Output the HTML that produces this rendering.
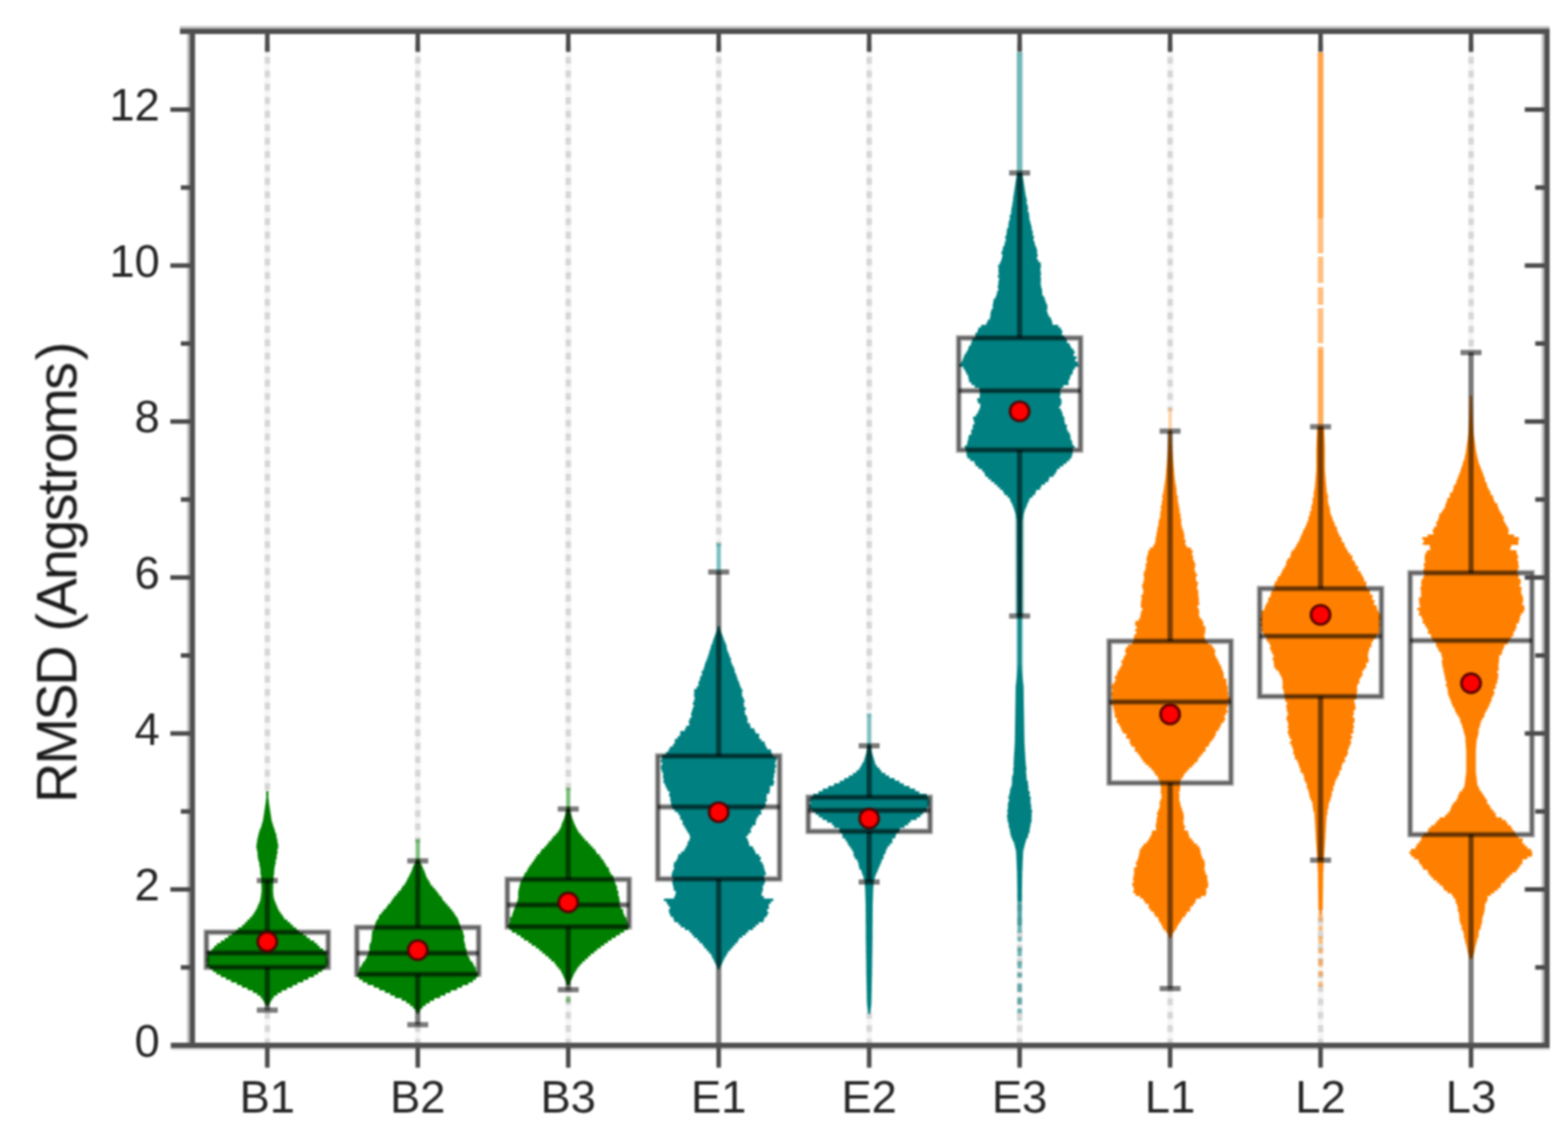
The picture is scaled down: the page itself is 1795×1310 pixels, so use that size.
<!DOCTYPE html>
<html lang="en"><head><meta charset="utf-8"><title>RMSD violin plot</title>
<style>html,body{margin:0;padding:0;background:#fff}body{width:1795px;height:1310px;overflow:hidden}svg{display:block}</style>
</head><body>
<svg width="1795" height="1310" viewBox="0 0 1795 1310">
<defs><filter id="b" x="-2%" y="-2%" width="104%" height="104%" color-interpolation-filters="sRGB"><feGaussianBlur stdDeviation="1.2"/></filter></defs>
<rect width="1795" height="1310" fill="#fff"/>
<g filter="url(#b)">
<g stroke="#f5f5f5" stroke-width="6.2" fill="none"><line x1="306.00" y1="50.43" x2="306.00" y2="1197.1"/><line x1="478.25" y1="50.43" x2="478.25" y2="1197.1"/><line x1="650.50" y1="50.43" x2="650.50" y2="1197.1"/><line x1="822.75" y1="50.43" x2="822.75" y2="1197.1"/><line x1="995.00" y1="50.43" x2="995.00" y2="1197.1"/><line x1="1167.25" y1="50.43" x2="1167.25" y2="1197.1"/><line x1="1339.50" y1="50.43" x2="1339.50" y2="1197.1"/><line x1="1511.75" y1="50.43" x2="1511.75" y2="1197.1"/><line x1="1684.00" y1="50.43" x2="1684.00" y2="1197.1"/></g>
<g stroke="#d6d6d6" stroke-width="6.2" stroke-dasharray="7.8 7.6" stroke-dashoffset="0.6" fill="none"><line x1="306.00" y1="50.43" x2="306.00" y2="1197.1"/><line x1="478.25" y1="50.43" x2="478.25" y2="1197.1"/><line x1="650.50" y1="50.43" x2="650.50" y2="1197.1"/><line x1="822.75" y1="50.43" x2="822.75" y2="1197.1"/><line x1="995.00" y1="50.43" x2="995.00" y2="1197.1"/><line x1="1167.25" y1="50.43" x2="1167.25" y2="1197.1"/><line x1="1339.50" y1="50.43" x2="1339.50" y2="1197.1"/><line x1="1511.75" y1="50.43" x2="1511.75" y2="1197.1"/><line x1="1684.00" y1="50.43" x2="1684.00" y2="1197.1"/></g>
<rect x="300.00" y="908.0" width="12" height="248.7" fill="#fff"/>
<rect x="472.25" y="965.0" width="12" height="208.4" fill="#fff"/>
<rect x="644.50" y="906.0" width="12" height="227.3" fill="#fff"/>
<rect x="816.75" y="626.0" width="12" height="571.1" fill="#fff"/>
<rect x="989.00" y="821.0" width="12" height="335.0" fill="#fff"/>
<rect x="1161.25" y="64.0" width="12" height="960.0" fill="#fff"/>
<rect x="1333.50" y="471.0" width="12" height="661.0" fill="#fff"/>
<rect x="1505.75" y="64.0" width="12" height="976.0" fill="#fff"/>
<rect x="1678.00" y="407.7" width="12" height="789.4" fill="#fff"/>
<path d="M306.4 906.0H307.2 V909.0H307.2 V912.0H307.2 V915.0H307.6 V918.0H307.9 V921.0H308.4 V924.0H308.8 V927.0H309.3 V930.0H309.7 V933.0H310.2 V936.0H310.6 V939.0H311.2 V942.0H312.2 V945.0H313.1 V948.0H314.2 V951.0H315.0 V954.0H316.3 V957.0H316.5 V960.0H317.4 V963.0H317.7 V966.0H318.5 V969.0H318.4 V972.0H317.5 V975.0H317.7 V978.0H316.8 V981.0H316.7 V984.0H315.6 V987.0H315.5 V990.0H314.7 V993.0H314.2 V996.0H313.9 V999.0H313.8 V1002.0H313.2 V1005.0H313.3 V1008.0H312.9 V1011.0H312.8 V1014.0H312.7 V1017.0H312.6 V1020.0H312.7 V1023.0H312.9 V1026.0H313.3 V1029.0H314.1 V1032.0H315.3 V1035.0H316.6 V1038.0H317.8 V1041.0H319.2 V1044.0H321.3 V1047.0H323.5 V1050.0H325.4 V1053.0H329.1 V1056.0H332.5 V1059.0H335.5 V1062.0H339.2 V1065.0H342.3 V1068.0H347.1 V1071.0H351.0 V1074.0H354.8 V1077.0H359.8 V1080.0H363.2 V1083.0H366.0 V1086.0H369.9 V1089.0H373.0 V1092.0H373.8 V1095.0H374.6 V1098.0H375.1 V1101.0H375.5 V1104.0H374.6 V1107.0H372.2 V1110.0H368.8 V1113.0H364.2 V1116.0H359.5 V1119.0H353.0 V1122.0H347.2 V1125.0H340.4 V1128.0H334.8 V1131.0H328.4 V1134.0H322.3 V1137.0H317.6 V1140.0H313.6 V1143.0H311.5 V1146.0H309.6 V1149.0H307.7 V1152.0H304.3 V1149.0H302.4 V1146.0H300.5 V1143.0H298.3 V1140.0H294.4 V1137.0H289.5 V1134.0H283.4 V1131.0H276.9 V1128.0H271.2 V1125.0H264.4 V1122.0H258.6 V1119.0H252.7 V1116.0H247.6 V1113.0H243.7 V1110.0H240.0 V1107.0H236.7 V1104.0H237.6 V1101.0H236.6 V1098.0H237.0 V1095.0H238.1 V1092.0H238.3 V1089.0H242.5 V1086.0H245.1 V1083.0H248.3 V1080.0H252.7 V1077.0H257.3 V1074.0H261.3 V1071.0H265.4 V1068.0H269.6 V1065.0H272.7 V1062.0H277.1 V1059.0H280.2 V1056.0H283.0 V1053.0H286.0 V1050.0H288.8 V1047.0H290.9 V1044.0H292.7 V1041.0H294.4 V1038.0H295.5 V1035.0H297.0 V1032.0H298.0 V1029.0H298.5 V1026.0H298.9 V1023.0H299.3 V1020.0H299.4 V1017.0H299.3 V1014.0H299.2 V1011.0H299.1 V1008.0H299.1 V1005.0H298.8 V1002.0H298.2 V999.0H298.1 V996.0H297.9 V993.0H297.1 V990.0H296.9 V987.0H296.0 V984.0H295.2 V981.0H294.9 V978.0H294.8 V975.0H294.2 V972.0H293.5 V969.0H293.6 V966.0H294.2 V963.0H294.5 V960.0H295.3 V957.0H295.9 V954.0H296.7 V951.0H297.8 V948.0H299.1 V945.0H299.8 V942.0H300.8 V939.0H301.4 V936.0H301.8 V933.0H302.3 V930.0H302.7 V927.0H303.2 V924.0H303.6 V921.0H304.1 V918.0H304.4 V915.0H304.8 V912.0H304.8 V909.0H304.8 V906.0Z" fill="#008000"/>
<line x1="478.25" y1="961.0" x2="478.25" y2="986.0" stroke="#008000" stroke-width="5.0" opacity="0.50"/>
<path d="M480.2 984.0H480.2 V987.0H481.6 V990.0H483.2 V993.0H484.4 V996.0H485.8 V999.0H486.9 V1002.0H487.9 V1005.0H489.5 V1008.0H491.5 V1011.0H492.9 V1014.0H495.5 V1017.0H498.2 V1020.0H500.6 V1023.0H502.7 V1026.0H505.4 V1029.0H507.0 V1032.0H509.7 V1035.0H512.3 V1038.0H515.0 V1041.0H517.5 V1044.0H519.7 V1047.0H521.6 V1050.0H523.8 V1053.0H525.0 V1056.0H526.0 V1059.0H527.1 V1062.0H528.0 V1065.0H529.9 V1068.0H530.6 V1071.0H531.5 V1074.0H531.1 V1077.0H531.6 V1080.0H532.5 V1083.0H532.7 V1086.0H534.1 V1089.0H534.3 V1092.0H535.0 V1095.0H537.1 V1098.0H538.4 V1101.0H541.1 V1104.0H542.6 V1107.0H544.5 V1110.0H545.0 V1113.0H547.0 V1116.0H547.1 V1119.0H544.8 V1122.0H541.3 V1125.0H536.2 V1128.0H529.1 V1131.0H523.2 V1134.0H515.9 V1137.0H510.0 V1140.0H503.9 V1143.0H497.0 V1146.0H492.0 V1149.0H487.4 V1152.0H483.8 V1155.0H481.2 V1158.0H479.5 V1161.0H477.0 V1158.0H475.3 V1155.0H472.7 V1152.0H469.2 V1149.0H465.1 V1146.0H459.8 V1143.0H452.1 V1140.0H446.7 V1137.0H440.6 V1134.0H434.0 V1131.0H427.9 V1128.0H420.5 V1125.0H415.2 V1122.0H411.1 V1119.0H408.5 V1116.0H410.0 V1113.0H410.9 V1110.0H411.7 V1107.0H413.9 V1104.0H415.5 V1101.0H418.0 V1098.0H419.6 V1095.0H420.8 V1092.0H422.2 V1089.0H422.9 V1086.0H422.8 V1083.0H423.2 V1080.0H424.7 V1077.0H425.3 V1074.0H425.5 V1071.0H425.7 V1068.0H426.1 V1065.0H428.4 V1062.0H429.1 V1059.0H429.7 V1056.0H430.9 V1053.0H433.1 V1050.0H434.0 V1047.0H436.7 V1044.0H439.1 V1041.0H442.1 V1038.0H444.1 V1035.0H447.0 V1032.0H448.9 V1029.0H451.1 V1026.0H453.8 V1023.0H456.1 V1020.0H459.0 V1017.0H460.7 V1014.0H463.3 V1011.0H465.1 V1008.0H466.5 V1005.0H468.2 V1002.0H469.6 V999.0H471.1 V996.0H472.1 V993.0H473.3 V990.0H474.9 V987.0H476.2 V984.0Z" fill="#008000"/>
<line x1="650.50" y1="902.0" x2="650.50" y2="926.4" stroke="#008000" stroke-width="5.0" opacity="0.50"/>
<line x1="650.50" y1="1141.0" x2="650.50" y2="1148.0" stroke="#008000" stroke-width="5.0" opacity="0.45"/>
<path d="M652.0 924.0H652.0 V927.0H652.7 V930.0H653.5 V933.0H654.4 V936.0H655.3 V939.0H656.5 V942.0H657.6 V945.0H659.0 V948.0H660.6 V951.0H662.2 V954.0H664.8 V957.0H667.3 V960.0H669.7 V963.0H673.0 V966.0H675.7 V969.0H678.5 V972.0H681.3 V975.0H683.0 V978.0H686.4 V981.0H688.3 V984.0H690.7 V987.0H692.5 V990.0H694.2 V993.0H696.9 V996.0H697.6 V999.0H699.3 V1002.0H701.9 V1005.0H702.7 V1008.0H703.8 V1011.0H704.9 V1014.0H706.3 V1017.0H706.4 V1020.0H707.9 V1023.0H707.6 V1026.0H708.7 V1029.0H709.3 V1032.0H709.6 V1035.0H709.2 V1038.0H710.8 V1041.0H713.3 V1044.0H713.6 V1047.0H714.9 V1050.0H716.9 V1053.0H717.7 V1056.0H718.8 V1059.0H719.7 V1062.0H719.0 V1065.0H714.4 V1068.0H709.7 V1071.0H705.0 V1074.0H700.2 V1077.0H695.9 V1080.0H691.8 V1083.0H687.7 V1086.0H683.6 V1089.0H680.2 V1092.0H676.2 V1095.0H673.1 V1098.0H669.8 V1101.0H666.5 V1104.0H663.8 V1107.0H661.3 V1110.0H659.5 V1113.0H657.6 V1116.0H656.2 V1119.0H654.8 V1122.0H653.4 V1125.0H652.5 V1128.0H648.5 V1125.0H647.6 V1122.0H646.2 V1119.0H644.8 V1116.0H643.3 V1113.0H641.8 V1110.0H639.3 V1107.0H636.8 V1104.0H634.7 V1101.0H631.0 V1098.0H628.0 V1095.0H624.3 V1092.0H620.7 V1089.0H617.3 V1086.0H613.4 V1083.0H608.6 V1080.0H604.9 V1077.0H599.8 V1074.0H596.1 V1071.0H591.3 V1068.0H586.0 V1065.0H583.1 V1062.0H581.0 V1059.0H583.0 V1056.0H583.9 V1053.0H583.9 V1050.0H586.2 V1047.0H587.0 V1044.0H588.1 V1041.0H589.2 V1038.0H590.6 V1035.0H591.6 V1032.0H592.7 V1029.0H593.3 V1026.0H593.2 V1023.0H593.3 V1020.0H593.8 V1017.0H594.6 V1014.0H595.2 V1011.0H596.1 V1008.0H598.2 V1005.0H599.4 V1002.0H600.6 V999.0H603.1 V996.0H604.6 V993.0H606.6 V990.0H608.8 V987.0H611.0 V984.0H613.0 V981.0H615.1 V978.0H618.1 V975.0H619.9 V972.0H623.2 V969.0H625.9 V966.0H628.2 V963.0H631.1 V960.0H633.3 V957.0H636.3 V954.0H638.8 V951.0H640.8 V948.0H642.4 V945.0H643.1 V942.0H644.5 V939.0H645.7 V936.0H646.6 V933.0H647.5 V930.0H648.3 V927.0H649.0 V924.0Z" fill="#008000"/>
<line x1="822.75" y1="622.0" x2="822.75" y2="655.0" stroke="#008080" stroke-width="5.0" opacity="0.50"/>
<path d="M823.6 717.0H824.0 V720.0H824.6 V723.0H825.8 V726.0H827.0 V729.0H828.2 V732.0H829.2 V735.0H830.6 V738.0H831.7 V741.0H832.0 V744.0H832.8 V747.0H834.2 V750.0H835.2 V753.0H836.7 V756.0H836.8 V759.0H838.0 V762.0H839.6 V765.0H840.8 V768.0H841.2 V771.0H842.7 V774.0H843.7 V777.0H844.6 V780.0H846.1 V783.0H846.9 V786.0H848.2 V789.0H849.9 V792.0H849.4 V795.0H849.5 V798.0H851.0 V801.0H852.3 V804.0H851.5 V807.0H851.7 V810.0H853.8 V813.0H852.5 V816.0H853.0 V819.0H855.0 V822.0H855.8 V825.0H855.6 V828.0H858.5 V831.0H859.2 V834.0H863.6 V837.0H864.9 V840.0H869.0 V843.0H869.0 V846.0H871.5 V849.0H875.3 V852.0H876.3 V855.0H877.9 V858.0H882.6 V861.0H883.3 V864.0H885.2 V867.0H889.4 V870.0H888.0 V873.0H887.4 V876.0H888.4 V879.0H887.0 V882.0H887.4 V885.0H886.3 V888.0H886.1 V891.0H885.3 V894.0H886.3 V897.0H885.5 V900.0H881.5 V903.0H881.4 V906.0H880.9 V909.0H877.8 V912.0H877.5 V915.0H877.8 V918.0H876.3 V921.0H876.7 V924.0H874.3 V927.0H871.3 V930.0H871.5 V933.0H868.3 V936.0H866.3 V939.0H865.3 V942.0H865.0 V945.0H861.4 V948.0H859.4 V951.0H859.6 V954.0H856.7 V957.0H854.4 V960.0H855.9 V963.0H857.1 V966.0H857.7 V969.0H861.9 V972.0H863.7 V975.0H865.0 V978.0H868.8 V981.0H871.0 V984.0H870.4 V987.0H872.7 V990.0H874.2 V993.0H874.8 V996.0H875.7 V999.0H876.8 V1002.0H874.9 V1005.0H875.1 V1008.0H875.9 V1011.0H874.8 V1014.0H873.1 V1017.0H873.5 V1020.0H872.5 V1023.0H871.8 V1026.0H874.4 V1029.0H885.2 V1032.0H882.4 V1035.0H880.0 V1038.0H880.3 V1041.0H878.2 V1044.0H879.5 V1047.0H878.0 V1050.0H875.2 V1053.0H874.1 V1056.0H868.5 V1059.0H865.1 V1062.0H862.0 V1065.0H856.5 V1068.0H853.7 V1071.0H849.7 V1074.0H845.9 V1077.0H844.3 V1080.0H841.4 V1083.0H838.8 V1086.0H836.2 V1089.0H833.4 V1092.0H831.8 V1095.0H829.9 V1098.0H828.4 V1101.0H827.0 V1104.0H825.5 V1107.0H824.0 V1110.0H821.5 V1107.0H820.0 V1104.0H818.5 V1101.0H817.1 V1098.0H815.4 V1095.0H814.2 V1092.0H811.6 V1089.0H809.0 V1086.0H806.2 V1083.0H804.2 V1080.0H800.8 V1077.0H798.3 V1074.0H794.4 V1071.0H792.0 V1068.0H789.2 V1065.0H784.0 V1062.0H779.3 V1059.0H776.6 V1056.0H771.8 V1053.0H770.8 V1050.0H767.6 V1047.0H766.3 V1044.0H765.6 V1041.0H767.0 V1038.0H764.9 V1035.0H763.1 V1032.0H760.1 V1029.0H771.8 V1026.0H773.2 V1023.0H773.6 V1020.0H771.3 V1017.0H770.9 V1014.0H770.0 V1011.0H769.5 V1008.0H770.9 V1005.0H769.0 V1002.0H769.0 V999.0H770.2 V996.0H771.6 V993.0H771.2 V990.0H771.6 V987.0H774.1 V984.0H775.7 V981.0H776.5 V978.0H779.8 V975.0H783.3 V972.0H785.1 V969.0H786.7 V966.0H787.5 V963.0H789.3 V960.0H790.0 V957.0H789.0 V954.0H787.0 V951.0H785.3 V948.0H783.5 V945.0H781.5 V942.0H781.3 V939.0H778.8 V936.0H778.3 V933.0H776.3 V930.0H772.6 V927.0H770.1 V924.0H768.4 V921.0H768.1 V918.0H767.4 V915.0H767.2 V912.0H765.9 V909.0H766.5 V906.0H764.1 V903.0H762.5 V900.0H761.3 V897.0H759.5 V894.0H759.6 V891.0H758.9 V888.0H759.2 V885.0H758.1 V882.0H756.9 V879.0H756.8 V876.0H758.1 V873.0H756.4 V870.0H757.7 V867.0H758.3 V864.0H762.4 V861.0H765.2 V858.0H766.8 V855.0H770.3 V852.0H772.3 V849.0H772.6 V846.0H775.8 V843.0H778.5 V840.0H778.8 V837.0H784.1 V834.0H785.5 V831.0H789.1 V828.0H788.5 V825.0H789.6 V822.0H791.6 V819.0H791.1 V816.0H792.1 V813.0H793.0 V810.0H794.2 V807.0H793.2 V804.0H794.5 V801.0H795.3 V798.0H794.5 V795.0H794.7 V792.0H794.7 V789.0H797.5 V786.0H799.6 V783.0H799.6 V780.0H801.1 V777.0H801.7 V774.0H803.6 V771.0H803.4 V768.0H805.3 V765.0H806.3 V762.0H807.0 V759.0H808.2 V756.0H809.5 V753.0H810.5 V750.0H811.5 V747.0H812.3 V744.0H813.4 V741.0H814.0 V738.0H815.5 V735.0H816.3 V732.0H817.3 V729.0H818.5 V726.0H819.7 V723.0H820.9 V720.0H821.5 V717.0Z" fill="#008080"/>
<line x1="995.00" y1="817.0" x2="995.00" y2="854.0" stroke="#008080" stroke-width="5.0" opacity="0.50"/>
<path d="M996.5 852.0H996.5 V855.0H997.1 V858.0H997.7 V861.0H998.4 V864.0H999.3 V867.0H1000.2 V870.0H1001.1 V873.0H1002.0 V876.0H1003.9 V879.0H1006.9 V882.0H1009.1 V885.0H1013.6 V888.0H1017.9 V891.0H1024.2 V894.0H1029.8 V897.0H1034.6 V900.0H1041.3 V903.0H1047.6 V906.0H1052.4 V909.0H1060.9 V912.0H1062.6 V915.0H1063.7 V918.0H1063.7 V921.0H1063.3 V924.0H1061.3 V927.0H1060.7 V930.0H1056.4 V933.0H1053.6 V936.0H1049.4 V939.0H1042.5 V942.0H1039.7 V945.0H1035.5 V948.0H1030.1 V951.0H1029.1 V954.0H1025.8 V957.0H1025.0 V960.0H1021.6 V963.0H1021.4 V966.0H1018.6 V969.0H1016.1 V972.0H1014.5 V975.0H1013.7 V978.0H1011.7 V981.0H1011.3 V984.0H1009.4 V987.0H1008.4 V990.0H1007.1 V993.0H1005.7 V996.0H1004.6 V999.0H1003.2 V1002.0H1002.0 V1005.0H1001.2 V1008.0H1000.5 V1011.0H1000.0 V1014.0H999.8 V1017.0H999.6 V1020.0H999.5 V1023.0H999.4 V1026.0H999.3 V1029.0H999.2 V1032.0H999.1 V1035.0H999.0 V1038.0H999.0 V1041.0H999.0 V1044.0H998.9 V1047.0H998.9 V1050.0H998.9 V1053.0H998.9 V1056.0H998.9 V1059.0H998.8 V1062.0H998.8 V1065.0H998.8 V1068.0H998.8 V1071.0H998.8 V1074.0H998.8 V1077.0H998.7 V1080.0H998.7 V1083.0H998.6 V1086.0H998.6 V1089.0H998.6 V1092.0H998.5 V1095.0H998.5 V1098.0H998.4 V1101.0H998.4 V1104.0H998.4 V1107.0H998.3 V1110.0H998.3 V1113.0H998.3 V1116.0H998.2 V1119.0H998.1 V1122.0H998.1 V1125.0H998.0 V1128.0H997.9 V1131.0H997.9 V1134.0H997.8 V1137.0H997.7 V1140.0H997.7 V1143.0H997.6 V1146.0H997.6 V1149.0H997.4 V1152.0H997.1 V1155.0H996.7 V1158.0H996.2 V1161.0H993.8 V1158.0H993.3 V1155.0H992.9 V1152.0H992.6 V1149.0H992.4 V1146.0H992.4 V1143.0H992.3 V1140.0H992.3 V1137.0H992.2 V1134.0H992.1 V1131.0H992.1 V1128.0H992.0 V1125.0H991.9 V1122.0H991.9 V1119.0H991.8 V1116.0H991.7 V1113.0H991.7 V1110.0H991.7 V1107.0H991.6 V1104.0H991.6 V1101.0H991.6 V1098.0H991.5 V1095.0H991.5 V1092.0H991.4 V1089.0H991.4 V1086.0H991.4 V1083.0H991.3 V1080.0H991.3 V1077.0H991.2 V1074.0H991.2 V1071.0H991.2 V1068.0H991.2 V1065.0H991.2 V1062.0H991.2 V1059.0H991.1 V1056.0H991.1 V1053.0H991.1 V1050.0H991.1 V1047.0H991.1 V1044.0H991.0 V1041.0H991.0 V1038.0H991.0 V1035.0H990.9 V1032.0H990.8 V1029.0H990.7 V1026.0H990.6 V1023.0H990.5 V1020.0H990.4 V1017.0H990.2 V1014.0H990.0 V1011.0H989.5 V1008.0H988.8 V1005.0H988.2 V1002.0H987.0 V999.0H986.1 V996.0H983.9 V993.0H983.1 V990.0H982.6 V987.0H981.4 V984.0H978.8 V981.0H977.2 V978.0H977.1 V975.0H975.5 V972.0H973.5 V969.0H971.3 V966.0H969.7 V963.0H967.7 V960.0H964.5 V957.0H964.2 V954.0H961.1 V951.0H960.9 V948.0H954.8 V945.0H952.4 V942.0H946.8 V939.0H941.6 V936.0H937.3 V933.0H933.8 V930.0H929.9 V927.0H927.0 V924.0H926.2 V921.0H928.3 V918.0H926.7 V915.0H928.0 V912.0H930.9 V909.0H937.0 V906.0H941.8 V903.0H948.1 V900.0H954.7 V897.0H961.3 V894.0H966.4 V891.0H971.6 V888.0H976.4 V885.0H980.4 V882.0H983.6 V879.0H985.5 V876.0H987.1 V873.0H988.9 V870.0H989.8 V867.0H990.7 V864.0H991.6 V861.0H992.3 V858.0H992.9 V855.0H993.5 V852.0Z" fill="#008080"/>
<line x1="1167.25" y1="60.0" x2="1167.25" y2="198.0" stroke="#008080" stroke-width="6.5" opacity="0.55"/>
<line x1="1167.25" y1="590.0" x2="1167.25" y2="705.0" stroke="#008080" stroke-width="10.0" opacity="0.42"/>
<line x1="1167.25" y1="705.0" x2="1167.25" y2="790.0" stroke="#008080" stroke-width="7.0" opacity="0.60"/>
<line x1="1167.25" y1="1030.0" x2="1167.25" y2="1060.0" stroke="#008080" stroke-width="5.0" opacity="0.70"/>
<line x1="1167.25" y1="1060.0" x2="1167.25" y2="1168.0" stroke="#008080" stroke-width="5.0" opacity="0.55" stroke-dasharray="8 5 5 7 10 6"/>
<path d="M1170.5 198.0H1170.5 V201.0H1170.9 V204.0H1171.4 V207.0H1171.9 V210.0H1172.3 V213.0H1172.8 V216.0H1173.2 V219.0H1173.7 V222.0H1174.1 V225.0H1174.9 V228.0H1175.5 V231.0H1175.2 V234.0H1176.4 V237.0H1176.9 V240.0H1176.6 V243.0H1177.9 V246.0H1178.3 V249.0H1178.4 V252.0H1179.2 V255.0H1180.0 V258.0H1180.9 V261.0H1181.1 V264.0H1182.3 V267.0H1182.2 V270.0H1183.6 V273.0H1183.0 V276.0H1184.3 V279.0H1184.9 V282.0H1186.3 V285.0H1187.2 V288.0H1187.2 V291.0H1187.9 V294.0H1187.0 V297.0H1188.6 V300.0H1191.2 V303.0H1191.7 V306.0H1191.1 V309.0H1191.2 V312.0H1191.7 V315.0H1191.2 V318.0H1191.7 V321.0H1191.4 V324.0H1191.4 V327.0H1191.9 V330.0H1192.8 V333.0H1193.0 V336.0H1193.3 V339.0H1195.4 V342.0H1196.4 V345.0H1197.4 V348.0H1198.8 V351.0H1199.1 V354.0H1198.4 V357.0H1199.3 V360.0H1200.5 V363.0H1202.9 V366.0H1204.2 V369.0H1204.8 V372.0H1211.6 V375.0H1214.5 V378.0H1216.1 V381.0H1215.6 V384.0H1218.2 V387.0H1220.9 V390.0H1221.5 V393.0H1224.5 V396.0H1226.0 V399.0H1228.7 V402.0H1230.3 V405.0H1229.0 V408.0H1232.4 V411.0H1230.8 V414.0H1233.8 V417.0H1234.6 V420.0H1230.5 V423.0H1228.4 V426.0H1227.8 V429.0H1225.5 V432.0H1224.7 V435.0H1223.2 V438.0H1223.2 V441.0H1217.2 V444.0H1214.5 V447.0H1213.3 V450.0H1214.2 V453.0H1213.3 V456.0H1214.8 V459.0H1215.3 V462.0H1214.5 V465.0H1212.7 V468.0H1214.6 V471.0H1216.0 V474.0H1216.6 V477.0H1218.4 V480.0H1218.5 V483.0H1219.0 V486.0H1221.4 V489.0H1221.1 V492.0H1222.4 V495.0H1224.5 V498.0H1225.4 V501.0H1225.6 V504.0H1227.2 V507.0H1227.7 V510.0H1229.9 V513.0H1228.2 V516.0H1228.0 V519.0H1227.6 V522.0H1226.6 V525.0H1224.4 V528.0H1221.1 V531.0H1217.3 V534.0H1213.3 V537.0H1210.0 V540.0H1208.5 V543.0H1206.3 V546.0H1201.3 V549.0H1200.1 V552.0H1196.4 V555.0H1192.2 V558.0H1190.7 V561.0H1186.1 V564.0H1184.9 V567.0H1181.9 V570.0H1178.7 V573.0H1177.4 V576.0H1175.9 V579.0H1174.9 V582.0H1173.5 V585.0H1172.6 V588.0H1171.8 V591.0H1171.1 V594.0H1170.4 V597.0H1170.2 V600.0H1170.2 V603.0H1170.2 V606.0H1170.2 V609.0H1170.2 V612.0H1170.2 V615.0H1170.2 V618.0H1170.1 V621.0H1170.1 V624.0H1170.1 V627.0H1170.1 V630.0H1170.1 V633.0H1170.1 V636.0H1170.1 V639.0H1170.0 V642.0H1170.0 V645.0H1170.0 V648.0H1170.0 V651.0H1170.0 V654.0H1170.0 V657.0H1170.0 V660.0H1169.9 V663.0H1169.9 V666.0H1169.9 V669.0H1169.9 V672.0H1169.9 V675.0H1169.9 V678.0H1169.9 V681.0H1169.9 V684.0H1169.8 V687.0H1169.8 V690.0H1169.8 V693.0H1169.8 V696.0H1169.8 V699.0H1169.8 V702.0H1169.8 V705.0H1169.5 V708.0H1168.8 V711.0H1168.8 V714.0H1168.8 V717.0H1168.8 V720.0H1168.8 V723.0H1168.8 V726.0H1168.8 V729.0H1168.8 V732.0H1168.8 V735.0H1168.8 V738.0H1168.8 V741.0H1168.8 V744.0H1168.8 V747.0H1168.8 V750.0H1168.8 V753.0H1168.8 V756.0H1168.8 V759.0H1168.8 V762.0H1169.2 V765.0H1169.5 V768.0H1169.8 V771.0H1170.2 V774.0H1170.5 V777.0H1170.9 V780.0H1171.2 V783.0H1171.6 V786.0H1171.8 V789.0H1171.8 V792.0H1171.9 V795.0H1171.9 V798.0H1171.9 V801.0H1172.0 V804.0H1172.0 V807.0H1172.1 V810.0H1172.1 V813.0H1172.2 V816.0H1172.2 V819.0H1172.3 V822.0H1172.3 V825.0H1172.4 V828.0H1172.4 V831.0H1172.5 V834.0H1172.5 V837.0H1172.6 V840.0H1172.6 V843.0H1172.7 V846.0H1172.7 V849.0H1172.8 V852.0H1173.0 V855.0H1173.1 V858.0H1173.3 V861.0H1173.5 V864.0H1173.7 V867.0H1173.8 V870.0H1174.0 V873.0H1174.2 V876.0H1174.6 V879.0H1175.0 V882.0H1174.5 V885.0H1174.9 V888.0H1175.1 V891.0H1175.3 V894.0H1176.7 V897.0H1176.9 V900.0H1177.3 V903.0H1177.3 V906.0H1178.9 V909.0H1178.5 V912.0H1179.9 V915.0H1179.7 V918.0H1179.7 V921.0H1180.5 V924.0H1180.4 V927.0H1181.5 V930.0H1181.1 V933.0H1181.0 V936.0H1180.9 V939.0H1180.9 V942.0H1179.9 V945.0H1179.4 V948.0H1178.8 V951.0H1178.6 V954.0H1177.2 V957.0H1176.6 V960.0H1174.8 V963.0H1174.0 V966.0H1173.1 V969.0H1172.4 V972.0H1171.6 V975.0H1171.2 V978.0H1171.1 V981.0H1171.0 V984.0H1170.8 V987.0H1170.7 V990.0H1170.6 V993.0H1170.5 V996.0H1170.3 V999.0H1170.2 V1002.0H1170.2 V1005.0H1170.1 V1008.0H1170.1 V1011.0H1170.0 V1014.0H1170.0 V1017.0H1169.9 V1020.0H1169.9 V1023.0H1169.8 V1026.0H1169.8 V1029.0H1169.8 V1032.0H1164.8 V1029.0H1164.7 V1026.0H1164.7 V1023.0H1164.6 V1020.0H1164.6 V1017.0H1164.5 V1014.0H1164.5 V1011.0H1164.4 V1008.0H1164.4 V1005.0H1164.3 V1002.0H1164.3 V999.0H1164.2 V996.0H1164.0 V993.0H1163.9 V990.0H1163.8 V987.0H1163.7 V984.0H1163.5 V981.0H1163.4 V978.0H1163.3 V975.0H1162.9 V972.0H1162.1 V969.0H1161.4 V966.0H1160.5 V963.0H1159.0 V960.0H1157.7 V957.0H1156.8 V954.0H1156.3 V951.0H1155.8 V948.0H1154.8 V945.0H1154.7 V942.0H1153.6 V939.0H1153.3 V936.0H1152.8 V933.0H1153.5 V930.0H1153.1 V927.0H1153.8 V924.0H1153.8 V921.0H1154.0 V918.0H1155.2 V915.0H1154.5 V912.0H1155.2 V909.0H1156.1 V906.0H1156.3 V903.0H1157.4 V900.0H1158.4 V897.0H1158.5 V894.0H1158.5 V891.0H1158.7 V888.0H1159.8 V885.0H1160.1 V882.0H1159.9 V879.0H1160.5 V876.0H1160.3 V873.0H1160.5 V870.0H1160.7 V867.0H1160.8 V864.0H1161.0 V861.0H1161.2 V858.0H1161.4 V855.0H1161.5 V852.0H1161.7 V849.0H1161.8 V846.0H1161.8 V843.0H1161.9 V840.0H1161.9 V837.0H1162.0 V834.0H1162.0 V831.0H1162.1 V828.0H1162.1 V825.0H1162.2 V822.0H1162.2 V819.0H1162.3 V816.0H1162.3 V813.0H1162.4 V810.0H1162.4 V807.0H1162.5 V804.0H1162.5 V801.0H1162.6 V798.0H1162.6 V795.0H1162.6 V792.0H1162.7 V789.0H1162.7 V786.0H1162.9 V783.0H1163.3 V780.0H1163.6 V777.0H1164.0 V774.0H1164.3 V771.0H1164.7 V768.0H1165.0 V765.0H1165.3 V762.0H1165.7 V759.0H1165.8 V756.0H1165.8 V753.0H1165.8 V750.0H1165.8 V747.0H1165.8 V744.0H1165.8 V741.0H1165.8 V738.0H1165.8 V735.0H1165.8 V732.0H1165.8 V729.0H1165.8 V726.0H1165.8 V723.0H1165.8 V720.0H1165.8 V717.0H1165.8 V714.0H1165.8 V711.0H1165.7 V708.0H1165.0 V705.0H1164.7 V702.0H1164.7 V699.0H1164.7 V696.0H1164.7 V693.0H1164.7 V690.0H1164.7 V687.0H1164.7 V684.0H1164.6 V681.0H1164.6 V678.0H1164.6 V675.0H1164.6 V672.0H1164.6 V669.0H1164.6 V666.0H1164.6 V663.0H1164.6 V660.0H1164.5 V657.0H1164.5 V654.0H1164.5 V651.0H1164.5 V648.0H1164.5 V645.0H1164.5 V642.0H1164.5 V639.0H1164.4 V636.0H1164.4 V633.0H1164.4 V630.0H1164.4 V627.0H1164.4 V624.0H1164.4 V621.0H1164.4 V618.0H1164.3 V615.0H1164.3 V612.0H1164.3 V609.0H1164.3 V606.0H1164.3 V603.0H1164.3 V600.0H1164.3 V597.0H1164.1 V594.0H1163.4 V591.0H1162.7 V588.0H1161.9 V585.0H1161.0 V582.0H1159.9 V579.0H1158.8 V576.0H1157.1 V573.0H1156.1 V570.0H1153.4 V567.0H1149.8 V564.0H1148.1 V561.0H1144.7 V558.0H1141.7 V555.0H1138.4 V552.0H1134.6 V549.0H1131.3 V546.0H1128.0 V543.0H1126.7 V540.0H1124.2 V537.0H1120.1 V534.0H1116.8 V531.0H1115.4 V528.0H1110.6 V525.0H1107.4 V522.0H1106.5 V519.0H1106.5 V516.0H1105.3 V513.0H1104.6 V510.0H1107.1 V507.0H1107.7 V504.0H1108.5 V501.0H1109.0 V498.0H1111.8 V495.0H1111.8 V492.0H1113.5 V489.0H1113.7 V486.0H1115.5 V483.0H1114.7 V480.0H1114.0 V477.0H1117.3 V474.0H1119.3 V471.0H1120.7 V468.0H1122.0 V465.0H1122.2 V462.0H1119.5 V459.0H1118.7 V456.0H1121.5 V453.0H1121.7 V450.0H1121.5 V447.0H1121.0 V444.0H1115.8 V441.0H1112.1 V438.0H1109.5 V435.0H1108.8 V432.0H1108.2 V429.0H1106.3 V426.0H1104.9 V423.0H1103.0 V420.0H1098.3 V417.0H1100.1 V414.0H1101.9 V411.0H1103.0 V408.0H1104.2 V405.0H1106.2 V402.0H1108.0 V399.0H1109.0 V396.0H1111.3 V393.0H1112.3 V390.0H1113.4 V387.0H1116.4 V384.0H1116.6 V381.0H1119.0 V378.0H1120.0 V375.0H1123.1 V372.0H1129.2 V369.0H1130.7 V366.0H1133.2 V363.0H1133.7 V360.0H1134.0 V357.0H1134.8 V354.0H1136.5 V351.0H1136.4 V348.0H1137.0 V345.0H1137.5 V342.0H1139.6 V339.0H1140.9 V336.0H1141.5 V333.0H1142.9 V330.0H1142.2 V327.0H1142.8 V324.0H1143.0 V321.0H1143.7 V318.0H1142.4 V315.0H1143.3 V312.0H1143.0 V309.0H1143.1 V306.0H1142.7 V303.0H1144.7 V300.0H1146.0 V297.0H1147.0 V294.0H1147.5 V291.0H1146.4 V288.0H1147.7 V285.0H1148.2 V282.0H1149.8 V279.0H1150.5 V276.0H1151.5 V273.0H1150.8 V270.0H1152.2 V267.0H1152.4 V264.0H1152.9 V261.0H1154.4 V258.0H1154.4 V255.0H1155.1 V252.0H1156.2 V249.0H1155.9 V246.0H1157.4 V243.0H1157.7 V240.0H1158.0 V237.0H1158.7 V234.0H1159.1 V231.0H1159.7 V228.0H1159.9 V225.0H1160.4 V222.0H1160.8 V219.0H1161.3 V216.0H1161.7 V213.0H1162.2 V210.0H1162.6 V207.0H1163.1 V204.0H1163.6 V201.0H1164.0 V198.0Z" fill="#008080"/>
<line x1="1339.50" y1="467.0" x2="1339.50" y2="493.0" stroke="#ff8000" stroke-width="4.0" opacity="0.35"/>
<path d="M1341.0 492.0H1341.0 V495.0H1341.1 V498.0H1341.2 V501.0H1341.3 V504.0H1341.4 V507.0H1341.5 V510.0H1341.8 V513.0H1342.0 V516.0H1342.2 V519.0H1342.5 V522.0H1342.7 V525.0H1342.9 V528.0H1343.2 V531.0H1343.4 V534.0H1343.7 V537.0H1344.0 V540.0H1344.2 V543.0H1344.5 V546.0H1344.8 V549.0H1345.2 V552.0H1345.7 V555.0H1346.2 V558.0H1346.8 V561.0H1346.8 V564.0H1347.0 V567.0H1348.3 V570.0H1348.2 V573.0H1348.5 V576.0H1349.2 V579.0H1349.7 V582.0H1350.4 V585.0H1350.4 V588.0H1351.6 V591.0H1351.5 V594.0H1352.4 V597.0H1352.1 V600.0H1352.6 V603.0H1353.3 V606.0H1354.5 V609.0H1355.3 V612.0H1355.9 V615.0H1355.7 V618.0H1357.3 V621.0H1356.7 V624.0H1358.4 V627.0H1363.4 V630.0H1365.3 V633.0H1364.6 V636.0H1365.7 V639.0H1365.8 V642.0H1367.4 V645.0H1368.4 V648.0H1367.9 V651.0H1367.5 V654.0H1368.7 V657.0H1370.4 V660.0H1369.0 V663.0H1369.3 V666.0H1371.3 V669.0H1370.9 V672.0H1370.2 V675.0H1371.6 V678.0H1371.8 V681.0H1371.9 V684.0H1372.4 V687.0H1372.3 V690.0H1372.9 V693.0H1370.9 V696.0H1372.2 V699.0H1372.9 V702.0H1372.5 V705.0H1373.2 V708.0H1375.7 V711.0H1377.5 V714.0H1377.5 V717.0H1380.0 V720.0H1379.7 V723.0H1379.6 V726.0H1378.6 V729.0H1379.2 V732.0H1380.1 V735.0H1383.1 V738.0H1387.5 V741.0H1389.7 V744.0H1391.3 V747.0H1390.6 V750.0H1391.7 V753.0H1393.4 V756.0H1394.9 V759.0H1396.3 V762.0H1398.0 V765.0H1398.9 V768.0H1400.3 V771.0H1400.9 V774.0H1400.9 V777.0H1404.0 V780.0H1404.0 V783.0H1404.5 V786.0H1405.6 V789.0H1405.2 V792.0H1405.9 V795.0H1405.7 V798.0H1407.8 V801.0H1407.4 V804.0H1405.6 V807.0H1405.7 V810.0H1404.0 V813.0H1405.3 V816.0H1403.6 V819.0H1401.7 V822.0H1402.6 V825.0H1400.8 V828.0H1398.0 V831.0H1396.8 V834.0H1395.1 V837.0H1392.3 V840.0H1391.6 V843.0H1389.9 V846.0H1387.8 V849.0H1385.2 V852.0H1383.8 V855.0H1380.4 V858.0H1379.9 V861.0H1377.0 V864.0H1374.6 V867.0H1372.0 V870.0H1370.8 V873.0H1367.4 V876.0H1364.8 V879.0H1361.3 V882.0H1358.6 V885.0H1356.0 V888.0H1354.3 V891.0H1352.3 V894.0H1350.7 V897.0H1350.8 V900.0H1351.1 V903.0H1350.7 V906.0H1349.7 V909.0H1350.2 V912.0H1350.0 V915.0H1350.1 V918.0H1351.1 V921.0H1351.5 V924.0H1352.8 V927.0H1353.7 V930.0H1354.8 V933.0H1355.2 V936.0H1355.3 V939.0H1354.7 V942.0H1355.1 V945.0H1356.6 V948.0H1355.9 V951.0H1359.9 V954.0H1360.7 V957.0H1361.7 V960.0H1364.5 V963.0H1366.7 V966.0H1370.4 V969.0H1373.0 V972.0H1374.2 V975.0H1374.5 V978.0H1375.4 V981.0H1376.6 V984.0H1378.5 V987.0H1379.2 V990.0H1379.3 V993.0H1378.7 V996.0H1379.5 V999.0H1380.3 V1002.0H1382.2 V1005.0H1382.0 V1008.0H1382.6 V1011.0H1383.2 V1014.0H1382.9 V1017.0H1380.8 V1020.0H1381.0 V1023.0H1380.4 V1026.0H1374.8 V1029.0H1369.2 V1032.0H1368.1 V1035.0H1365.9 V1038.0H1362.8 V1041.0H1362.2 V1044.0H1358.5 V1047.0H1357.0 V1050.0H1353.7 V1053.0H1352.1 V1056.0H1350.0 V1059.0H1348.0 V1062.0H1346.6 V1065.0H1344.5 V1068.0H1342.3 V1071.0H1341.2 V1074.0H1337.8 V1071.0H1336.7 V1068.0H1334.5 V1065.0H1331.7 V1062.0H1330.3 V1059.0H1328.8 V1056.0H1326.7 V1053.0H1325.8 V1050.0H1322.3 V1047.0H1320.9 V1044.0H1317.4 V1041.0H1315.1 V1038.0H1314.7 V1035.0H1310.9 V1032.0H1309.0 V1029.0H1305.3 V1026.0H1300.0 V1023.0H1297.4 V1020.0H1298.1 V1017.0H1297.3 V1014.0H1296.0 V1011.0H1297.7 V1008.0H1297.0 V1005.0H1297.7 V1002.0H1298.3 V999.0H1298.2 V996.0H1298.3 V993.0H1301.2 V990.0H1300.2 V987.0H1301.9 V984.0H1303.0 V981.0H1303.7 V978.0H1304.4 V975.0H1304.8 V972.0H1307.0 V969.0H1309.1 V966.0H1312.7 V963.0H1314.9 V960.0H1316.7 V957.0H1318.1 V954.0H1318.9 V951.0H1323.5 V948.0H1323.1 V945.0H1323.2 V942.0H1324.1 V939.0H1324.1 V936.0H1325.1 V933.0H1324.5 V930.0H1325.7 V927.0H1327.2 V924.0H1327.8 V921.0H1327.4 V918.0H1328.4 V915.0H1329.6 V912.0H1329.6 V909.0H1328.7 V906.0H1329.0 V903.0H1328.9 V900.0H1328.6 V897.0H1328.0 V894.0H1326.4 V891.0H1325.2 V888.0H1322.5 V885.0H1320.7 V882.0H1318.0 V879.0H1314.9 V876.0H1311.3 V873.0H1308.6 V870.0H1306.6 V867.0H1304.7 V864.0H1302.3 V861.0H1299.2 V858.0H1299.0 V855.0H1294.9 V852.0H1293.4 V849.0H1293.2 V846.0H1289.3 V843.0H1289.4 V840.0H1285.3 V837.0H1283.8 V834.0H1282.6 V831.0H1280.9 V828.0H1278.4 V825.0H1278.6 V822.0H1276.2 V819.0H1276.1 V816.0H1275.4 V813.0H1274.7 V810.0H1274.0 V807.0H1271.6 V804.0H1273.3 V801.0H1273.2 V798.0H1272.2 V795.0H1272.2 V792.0H1273.6 V789.0H1272.4 V786.0H1273.2 V783.0H1275.5 V780.0H1277.2 V777.0H1276.1 V774.0H1278.4 V771.0H1279.2 V768.0H1281.2 V765.0H1283.0 V762.0H1284.6 V759.0H1283.6 V756.0H1286.0 V753.0H1287.2 V750.0H1289.0 V747.0H1287.9 V744.0H1289.0 V741.0H1291.4 V738.0H1296.1 V735.0H1297.8 V732.0H1297.9 V729.0H1298.7 V726.0H1300.9 V723.0H1299.5 V720.0H1301.4 V717.0H1299.5 V714.0H1299.7 V711.0H1303.6 V708.0H1305.4 V705.0H1305.7 V702.0H1306.5 V699.0H1307.8 V696.0H1306.0 V693.0H1306.1 V690.0H1306.4 V687.0H1307.1 V684.0H1306.5 V681.0H1308.4 V678.0H1308.9 V675.0H1307.9 V672.0H1307.4 V669.0H1308.6 V666.0H1309.4 V663.0H1309.7 V660.0H1309.3 V657.0H1309.5 V654.0H1311.1 V651.0H1311.7 V648.0H1311.5 V645.0H1313.0 V642.0H1312.4 V639.0H1313.0 V636.0H1314.1 V633.0H1314.6 V630.0H1316.5 V627.0H1320.1 V624.0H1321.9 V621.0H1322.9 V618.0H1322.9 V615.0H1323.7 V612.0H1324.0 V609.0H1324.8 V606.0H1325.0 V603.0H1326.1 V600.0H1326.3 V597.0H1326.7 V594.0H1328.1 V591.0H1328.2 V588.0H1328.4 V585.0H1329.3 V582.0H1328.8 V579.0H1330.0 V576.0H1330.0 V573.0H1331.0 V570.0H1330.5 V567.0H1331.4 V564.0H1331.9 V561.0H1332.5 V558.0H1332.8 V555.0H1333.3 V552.0H1333.8 V549.0H1334.2 V546.0H1334.5 V543.0H1334.8 V540.0H1335.0 V537.0H1335.3 V534.0H1335.6 V531.0H1335.8 V528.0H1336.1 V525.0H1336.3 V522.0H1336.5 V519.0H1336.8 V516.0H1337.0 V513.0H1337.2 V510.0H1337.5 V507.0H1337.6 V504.0H1337.7 V501.0H1337.8 V498.0H1337.9 V495.0H1338.0 V492.0Z" fill="#ff8000"/>
<line x1="1511.75" y1="60.0" x2="1511.75" y2="250.0" stroke="#ff8000" stroke-width="6.5" opacity="0.70"/>
<line x1="1511.75" y1="250.0" x2="1511.75" y2="400.0" stroke="#ff8000" stroke-width="6.5" opacity="0.50" stroke-dasharray="40 4 30 5 20 4"/>
<line x1="1511.75" y1="400.0" x2="1511.75" y2="489.0" stroke="#ff8000" stroke-width="6.5" opacity="0.65"/>
<line x1="1511.75" y1="1046.0" x2="1511.75" y2="1130.0" stroke="#ff8000" stroke-width="5.0" opacity="0.50" stroke-dasharray="9 5 6 6"/>
<path d="M1515.8 489.0H1515.8 V492.0H1515.9 V495.0H1516.0 V498.0H1516.1 V501.0H1516.3 V504.0H1516.4 V507.0H1516.5 V510.0H1516.6 V513.0H1516.7 V516.0H1516.7 V519.0H1516.7 V522.0H1516.7 V525.0H1516.7 V528.0H1516.7 V531.0H1516.7 V534.0H1516.7 V537.0H1516.8 V540.0H1517.0 V543.0H1517.3 V546.0H1517.5 V549.0H1517.7 V552.0H1518.0 V555.0H1518.2 V558.0H1518.6 V561.0H1518.7 V564.0H1519.4 V567.0H1520.5 V570.0H1519.9 V573.0H1520.4 V576.0H1520.8 V579.0H1522.0 V582.0H1522.6 V585.0H1522.7 V588.0H1523.7 V591.0H1525.0 V594.0H1525.8 V597.0H1527.5 V600.0H1528.2 V603.0H1530.5 V606.0H1530.8 V609.0H1532.2 V612.0H1533.6 V615.0H1535.8 V618.0H1536.2 V621.0H1538.9 V624.0H1539.6 V627.0H1541.5 V630.0H1543.1 V633.0H1545.6 V636.0H1548.2 V639.0H1548.1 V642.0H1550.9 V645.0H1551.8 V648.0H1554.8 V651.0H1554.6 V654.0H1557.6 V657.0H1559.0 V660.0H1560.9 V663.0H1561.7 V666.0H1564.3 V669.0H1564.0 V672.0H1564.4 V675.0H1568.0 V678.0H1568.5 V681.0H1571.3 V684.0H1570.9 V687.0H1573.6 V690.0H1572.8 V693.0H1576.0 V696.0H1576.5 V699.0H1578.0 V702.0H1579.8 V705.0H1580.5 V708.0H1580.0 V711.0H1579.3 V714.0H1580.3 V717.0H1579.1 V720.0H1579.4 V723.0H1579.1 V726.0H1576.2 V729.0H1574.6 V732.0H1572.0 V735.0H1570.1 V738.0H1570.0 V741.0H1567.9 V744.0H1567.0 V747.0H1566.2 V750.0H1566.0 V753.0H1566.6 V756.0H1566.7 V759.0H1563.9 V762.0H1564.1 V765.0H1561.7 V768.0H1559.4 V771.0H1559.9 V774.0H1558.0 V777.0H1556.1 V780.0H1556.2 V783.0H1554.0 V786.0H1553.4 V789.0H1553.8 V792.0H1553.3 V795.0H1552.6 V798.0H1552.9 V801.0H1550.3 V804.0H1550.9 V807.0H1551.6 V810.0H1551.8 V813.0H1549.7 V816.0H1549.8 V819.0H1548.8 V822.0H1550.7 V825.0H1550.4 V828.0H1549.1 V831.0H1550.1 V834.0H1548.8 V837.0H1549.3 V840.0H1546.7 V843.0H1548.0 V846.0H1546.1 V849.0H1546.8 V852.0H1545.4 V855.0H1544.2 V858.0H1542.9 V861.0H1543.2 V864.0H1541.7 V867.0H1539.4 V870.0H1539.8 V873.0H1537.0 V876.0H1535.8 V879.0H1535.8 V882.0H1533.5 V885.0H1533.2 V888.0H1531.4 V891.0H1529.7 V894.0H1528.4 V897.0H1527.8 V900.0H1526.2 V903.0H1526.4 V906.0H1524.6 V909.0H1524.7 V912.0H1523.5 V915.0H1522.8 V918.0H1521.4 V921.0H1520.9 V924.0H1520.5 V927.0H1519.5 V930.0H1519.6 V933.0H1518.7 V936.0H1518.5 V939.0H1518.3 V942.0H1518.1 V945.0H1517.9 V948.0H1517.8 V951.0H1517.6 V954.0H1517.4 V957.0H1517.3 V960.0H1517.1 V963.0H1516.9 V966.0H1516.7 V969.0H1516.5 V972.0H1516.3 V975.0H1516.1 V978.0H1515.9 V981.0H1515.7 V984.0H1515.5 V987.0H1515.3 V990.0H1515.2 V993.0H1515.0 V996.0H1514.9 V999.0H1514.7 V1002.0H1514.7 V1005.0H1514.7 V1008.0H1514.6 V1011.0H1514.6 V1014.0H1514.6 V1017.0H1514.5 V1020.0H1514.5 V1023.0H1514.4 V1026.0H1514.4 V1029.0H1514.4 V1032.0H1514.3 V1035.0H1514.3 V1038.0H1514.3 V1041.0H1513.2 V1044.0H1513.0 V1047.0H1510.5 V1044.0H1510.3 V1041.0H1509.2 V1038.0H1509.2 V1035.0H1509.2 V1032.0H1509.1 V1029.0H1509.1 V1026.0H1509.1 V1023.0H1509.0 V1020.0H1509.0 V1017.0H1508.9 V1014.0H1508.9 V1011.0H1508.9 V1008.0H1508.8 V1005.0H1508.8 V1002.0H1508.8 V999.0H1508.6 V996.0H1508.5 V993.0H1508.3 V990.0H1508.2 V987.0H1508.0 V984.0H1507.8 V981.0H1507.6 V978.0H1507.4 V975.0H1507.2 V972.0H1507.0 V969.0H1506.8 V966.0H1506.6 V963.0H1506.4 V960.0H1506.2 V957.0H1506.1 V954.0H1505.9 V951.0H1505.7 V948.0H1505.6 V945.0H1505.4 V942.0H1505.2 V939.0H1505.0 V936.0H1504.8 V933.0H1504.7 V930.0H1503.6 V927.0H1503.1 V924.0H1502.7 V921.0H1502.5 V918.0H1501.0 V915.0H1499.6 V912.0H1498.9 V909.0H1498.4 V906.0H1497.4 V903.0H1496.0 V900.0H1496.1 V897.0H1494.5 V894.0H1493.0 V891.0H1492.8 V888.0H1491.7 V885.0H1488.8 V882.0H1488.6 V879.0H1487.1 V876.0H1486.5 V873.0H1485.1 V870.0H1482.4 V867.0H1482.1 V864.0H1480.4 V861.0H1480.6 V858.0H1479.8 V855.0H1478.5 V852.0H1476.7 V849.0H1478.3 V846.0H1476.3 V843.0H1475.3 V840.0H1474.1 V837.0H1475.1 V834.0H1474.2 V831.0H1474.8 V828.0H1474.1 V825.0H1472.6 V822.0H1473.3 V819.0H1474.5 V816.0H1473.4 V813.0H1472.9 V810.0H1472.4 V807.0H1473.4 V804.0H1471.5 V801.0H1470.7 V798.0H1470.4 V795.0H1469.9 V792.0H1469.2 V789.0H1468.1 V786.0H1468.3 V783.0H1468.3 V780.0H1468.0 V777.0H1466.9 V774.0H1465.3 V771.0H1464.0 V768.0H1460.7 V765.0H1458.6 V762.0H1458.4 V759.0H1458.0 V756.0H1456.8 V753.0H1458.1 V750.0H1456.6 V747.0H1455.3 V744.0H1453.8 V741.0H1454.4 V738.0H1452.8 V735.0H1450.2 V732.0H1449.9 V729.0H1447.2 V726.0H1445.7 V723.0H1443.9 V720.0H1444.6 V717.0H1442.6 V714.0H1444.2 V711.0H1442.3 V708.0H1443.8 V705.0H1444.0 V702.0H1444.2 V699.0H1447.4 V696.0H1448.3 V693.0H1449.7 V690.0H1451.8 V687.0H1452.0 V684.0H1454.4 V681.0H1454.9 V678.0H1456.2 V675.0H1459.2 V672.0H1458.5 V669.0H1459.4 V666.0H1461.8 V663.0H1462.8 V660.0H1465.6 V657.0H1467.1 V654.0H1468.5 V651.0H1470.6 V648.0H1472.2 V645.0H1472.5 V642.0H1474.1 V639.0H1477.1 V636.0H1477.6 V633.0H1478.8 V630.0H1481.7 V627.0H1483.5 V624.0H1485.1 V621.0H1487.0 V618.0H1488.3 V615.0H1489.4 V612.0H1491.0 V609.0H1492.0 V606.0H1493.8 V603.0H1495.2 V600.0H1496.3 V597.0H1497.7 V594.0H1497.9 V591.0H1499.4 V588.0H1499.6 V585.0H1501.4 V582.0H1501.0 V579.0H1502.2 V576.0H1502.8 V573.0H1502.6 V570.0H1504.0 V567.0H1503.8 V564.0H1504.3 V561.0H1504.9 V558.0H1505.3 V555.0H1505.5 V552.0H1505.8 V549.0H1506.0 V546.0H1506.2 V543.0H1506.5 V540.0H1506.7 V537.0H1506.8 V534.0H1506.8 V531.0H1506.8 V528.0H1506.8 V525.0H1506.8 V522.0H1506.8 V519.0H1506.8 V516.0H1506.8 V513.0H1506.9 V510.0H1507.0 V507.0H1507.1 V504.0H1507.2 V501.0H1507.4 V498.0H1507.5 V495.0H1507.6 V492.0H1507.7 V489.0Z" fill="#ff8000"/>
<path d="M1685.1 453.0H1685.2 V456.0H1685.2 V459.0H1685.3 V462.0H1685.4 V465.0H1685.5 V468.0H1685.6 V471.0H1685.7 V474.0H1685.8 V477.0H1685.9 V480.0H1686.1 V483.0H1686.3 V486.0H1686.5 V489.0H1686.7 V492.0H1686.9 V495.0H1687.1 V498.0H1687.4 V501.0H1687.8 V504.0H1688.2 V507.0H1688.7 V510.0H1689.1 V513.0H1689.5 V516.0H1689.9 V519.0H1690.6 V522.0H1691.3 V525.0H1692.1 V528.0H1692.6 V531.0H1693.8 V534.0H1695.0 V537.0H1696.2 V540.0H1697.6 V543.0H1698.4 V546.0H1699.7 V549.0H1700.0 V552.0H1702.0 V555.0H1702.5 V558.0H1703.8 V561.0H1705.7 V564.0H1706.6 V567.0H1709.1 V570.0H1709.8 V573.0H1711.1 V576.0H1714.1 V579.0H1714.9 V582.0H1716.0 V585.0H1717.7 V588.0H1719.6 V591.0H1721.5 V594.0H1721.2 V597.0H1722.8 V600.0H1724.5 V603.0H1726.4 V606.0H1727.2 V609.0H1726.7 V612.0H1733.2 V615.0H1738.9 V618.0H1738.2 V621.0H1738.2 V624.0H1730.0 V627.0H1728.9 V630.0H1735.9 V633.0H1736.7 V636.0H1738.1 V639.0H1737.0 V642.0H1738.1 V645.0H1738.2 V648.0H1738.7 V651.0H1737.5 V654.0H1736.8 V657.0H1738.5 V660.0H1738.5 V663.0H1740.9 V666.0H1740.8 V669.0H1739.6 V672.0H1741.8 V675.0H1741.4 V678.0H1741.5 V681.0H1743.0 V684.0H1743.7 V687.0H1743.6 V690.0H1742.8 V693.0H1744.9 V696.0H1745.3 V699.0H1744.0 V702.0H1741.5 V705.0H1740.1 V708.0H1739.7 V711.0H1738.7 V714.0H1735.9 V717.0H1736.0 V720.0H1734.6 V723.0H1732.7 V726.0H1732.3 V729.0H1729.7 V732.0H1727.3 V735.0H1725.9 V738.0H1722.3 V741.0H1721.2 V744.0H1719.7 V747.0H1719.3 V750.0H1716.4 V753.0H1716.1 V756.0H1716.0 V759.0H1715.4 V762.0H1715.4 V765.0H1715.7 V768.0H1714.0 V771.0H1715.3 V774.0H1715.0 V777.0H1714.3 V780.0H1713.9 V783.0H1712.3 V786.0H1712.2 V789.0H1709.9 V792.0H1710.8 V795.0H1709.6 V798.0H1707.8 V801.0H1707.3 V804.0H1705.7 V807.0H1704.6 V810.0H1703.0 V813.0H1701.3 V816.0H1699.6 V819.0H1699.1 V822.0H1696.8 V825.0H1695.4 V828.0H1694.6 V831.0H1693.8 V834.0H1692.6 V837.0H1692.7 V840.0H1692.1 V843.0H1691.4 V846.0H1690.5 V849.0H1690.2 V852.0H1690.0 V855.0H1689.8 V858.0H1689.5 V861.0H1689.5 V864.0H1689.5 V867.0H1689.5 V870.0H1689.5 V873.0H1689.5 V876.0H1689.5 V879.0H1689.5 V882.0H1689.5 V885.0H1689.8 V888.0H1690.2 V891.0H1690.6 V894.0H1690.9 V897.0H1691.2 V900.0H1692.8 V903.0H1694.1 V906.0H1696.3 V909.0H1698.3 V912.0H1700.2 V915.0H1702.3 V918.0H1702.5 V921.0H1705.3 V924.0H1706.7 V927.0H1709.6 V930.0H1711.8 V933.0H1712.7 V936.0H1719.4 V939.0H1724.0 V942.0H1726.0 V945.0H1729.7 V948.0H1731.4 V951.0H1733.8 V954.0H1735.2 V957.0H1738.3 V960.0H1743.1 V963.0H1742.7 V966.0H1745.4 V969.0H1748.6 V972.0H1752.8 V975.0H1754.1 V978.0H1753.8 V981.0H1748.6 V984.0H1743.0 V987.0H1742.6 V990.0H1740.2 V993.0H1738.0 V996.0H1735.8 V999.0H1731.0 V1002.0H1727.9 V1005.0H1724.7 V1008.0H1722.6 V1011.0H1718.8 V1014.0H1717.7 V1017.0H1714.5 V1020.0H1710.7 V1023.0H1706.7 V1026.0H1702.9 V1029.0H1702.9 V1032.0H1701.3 V1035.0H1699.9 V1038.0H1699.9 V1041.0H1699.5 V1044.0H1698.9 V1047.0H1697.9 V1050.0H1696.9 V1053.0H1696.8 V1056.0H1696.3 V1059.0H1695.4 V1062.0H1694.7 V1065.0H1692.9 V1068.0H1692.7 V1071.0H1692.5 V1074.0H1691.2 V1077.0H1690.6 V1080.0H1689.7 V1083.0H1688.9 V1086.0H1688.3 V1089.0H1687.7 V1092.0H1686.8 V1095.0H1685.7 V1098.0H1682.3 V1095.0H1681.2 V1092.0H1680.3 V1089.0H1679.7 V1086.0H1679.1 V1083.0H1678.3 V1080.0H1677.4 V1077.0H1676.8 V1074.0H1675.8 V1071.0H1675.8 V1068.0H1674.9 V1065.0H1673.2 V1062.0H1673.3 V1059.0H1671.8 V1056.0H1671.0 V1053.0H1670.6 V1050.0H1670.6 V1047.0H1670.1 V1044.0H1668.7 V1041.0H1668.8 V1038.0H1668.1 V1035.0H1666.5 V1032.0H1666.2 V1029.0H1663.9 V1026.0H1661.9 V1023.0H1656.9 V1020.0H1653.1 V1017.0H1651.5 V1014.0H1647.7 V1011.0H1644.7 V1008.0H1640.8 V1005.0H1638.0 V1002.0H1635.4 V999.0H1634.2 V996.0H1629.1 V993.0H1627.6 V990.0H1625.0 V987.0H1623.7 V984.0H1618.9 V981.0H1615.4 V978.0H1613.5 V975.0H1615.2 V972.0H1620.5 V969.0H1622.0 V966.0H1624.7 V963.0H1626.8 V960.0H1627.4 V957.0H1630.2 V954.0H1634.4 V951.0H1635.2 V948.0H1638.2 V945.0H1642.6 V942.0H1645.1 V939.0H1647.9 V936.0H1654.1 V933.0H1657.2 V930.0H1659.7 V927.0H1660.9 V924.0H1662.1 V921.0H1664.2 V918.0H1667.0 V915.0H1668.6 V912.0H1669.4 V909.0H1671.0 V906.0H1674.0 V903.0H1675.8 V900.0H1676.7 V897.0H1677.1 V894.0H1677.4 V891.0H1677.8 V888.0H1678.2 V885.0H1678.5 V882.0H1678.5 V879.0H1678.5 V876.0H1678.5 V873.0H1678.5 V870.0H1678.5 V867.0H1678.5 V864.0H1678.5 V861.0H1678.5 V858.0H1678.2 V855.0H1678.0 V852.0H1677.8 V849.0H1677.5 V846.0H1677.5 V843.0H1676.8 V840.0H1675.8 V837.0H1675.1 V834.0H1674.1 V831.0H1673.3 V828.0H1671.8 V825.0H1671.4 V822.0H1669.6 V819.0H1667.6 V816.0H1666.0 V813.0H1664.9 V810.0H1663.0 V807.0H1661.7 V804.0H1660.8 V801.0H1659.5 V798.0H1658.3 V795.0H1657.4 V792.0H1657.3 V789.0H1656.7 V786.0H1655.1 V783.0H1656.0 V780.0H1654.6 V777.0H1654.2 V774.0H1653.6 V771.0H1652.7 V768.0H1652.4 V765.0H1651.4 V762.0H1651.0 V759.0H1650.5 V756.0H1651.3 V753.0H1650.4 V750.0H1649.9 V747.0H1647.4 V744.0H1646.0 V741.0H1644.0 V738.0H1643.9 V735.0H1640.7 V732.0H1638.8 V729.0H1637.8 V726.0H1634.7 V723.0H1634.9 V720.0H1632.9 V717.0H1631.1 V714.0H1628.6 V711.0H1628.6 V708.0H1627.3 V705.0H1624.3 V702.0H1625.0 V699.0H1622.4 V696.0H1625.6 V693.0H1624.9 V690.0H1624.5 V687.0H1624.4 V684.0H1626.9 V681.0H1626.6 V678.0H1626.6 V675.0H1626.0 V672.0H1627.2 V669.0H1626.8 V666.0H1627.4 V663.0H1629.2 V660.0H1630.6 V657.0H1629.7 V654.0H1629.6 V651.0H1630.6 V648.0H1629.8 V645.0H1631.4 V642.0H1631.0 V639.0H1630.9 V636.0H1631.6 V633.0H1633.4 V630.0H1637.2 V627.0H1636.8 V624.0H1628.7 V621.0H1630.1 V618.0H1628.2 V615.0H1634.3 V612.0H1640.9 V609.0H1640.0 V606.0H1641.8 V603.0H1644.5 V600.0H1644.2 V597.0H1646.1 V594.0H1647.3 V591.0H1647.6 V588.0H1650.2 V585.0H1652.4 V582.0H1654.2 V579.0H1654.8 V576.0H1656.1 V573.0H1656.9 V570.0H1659.7 V567.0H1659.8 V564.0H1662.9 V561.0H1663.8 V558.0H1664.3 V555.0H1666.7 V552.0H1667.5 V549.0H1668.8 V546.0H1669.8 V543.0H1671.2 V540.0H1672.1 V537.0H1673.0 V534.0H1674.2 V531.0H1674.7 V528.0H1676.2 V525.0H1676.8 V522.0H1677.4 V519.0H1678.1 V516.0H1678.5 V513.0H1678.9 V510.0H1679.3 V507.0H1679.8 V504.0H1680.2 V501.0H1680.6 V498.0H1680.9 V495.0H1681.1 V492.0H1681.3 V489.0H1681.5 V486.0H1681.7 V483.0H1681.9 V480.0H1682.1 V477.0H1682.2 V474.0H1682.3 V471.0H1682.4 V468.0H1682.5 V465.0H1682.6 V462.0H1682.7 V459.0H1682.8 V456.0H1682.8 V453.0Z" fill="#ff8000"/>
<g stroke="rgba(0,0,0,0.52)" stroke-width="6" fill="none"><line x1="306.00" y1="1008.3" x2="306.00" y2="1067.5"/><line x1="294.00" y1="1008.3" x2="318.00" y2="1008.3"/><line x1="306.00" y1="1107.6" x2="306.00" y2="1156.7"/><line x1="294.00" y1="1156.7" x2="318.00" y2="1156.7"/></g>
<g stroke="rgba(0,0,0,0.38)" stroke-width="6.4" fill="none"><rect x="236.30" y="1067.5" width="139.4" height="40.1"/><line x1="236.30" y1="1091.2" x2="375.70" y2="1091.2"/></g>
<g stroke="rgba(0,0,0,0.42)" stroke-width="3" fill="none"><rect x="236.30" y="1067.5" width="139.4" height="40.1"/><line x1="236.30" y1="1091.2" x2="375.70" y2="1091.2"/></g>
<circle cx="306.00" cy="1078.3" r="11" fill="#ff0000" stroke="rgba(80,0,0,0.9)" stroke-width="3.2"/>
<g stroke="rgba(0,0,0,0.52)" stroke-width="6" fill="none"><line x1="478.25" y1="985.8" x2="478.25" y2="1062.0"/><line x1="466.25" y1="985.8" x2="490.25" y2="985.8"/><line x1="478.25" y1="1115.6" x2="478.25" y2="1173.4"/><line x1="466.25" y1="1173.4" x2="490.25" y2="1173.4"/></g>
<g stroke="rgba(0,0,0,0.38)" stroke-width="6.4" fill="none"><rect x="408.55" y="1062.0" width="139.4" height="53.6"/><line x1="408.55" y1="1091.5" x2="547.95" y2="1091.5"/></g>
<g stroke="rgba(0,0,0,0.42)" stroke-width="3" fill="none"><rect x="408.55" y="1062.0" width="139.4" height="53.6"/><line x1="408.55" y1="1091.5" x2="547.95" y2="1091.5"/></g>
<circle cx="478.25" cy="1088.0" r="11" fill="#ff0000" stroke="rgba(80,0,0,0.9)" stroke-width="3.2"/>
<g stroke="rgba(0,0,0,0.52)" stroke-width="6" fill="none"><line x1="650.50" y1="926.4" x2="650.50" y2="1007.0"/><line x1="638.50" y1="926.4" x2="662.50" y2="926.4"/><line x1="650.50" y1="1061.2" x2="650.50" y2="1133.3"/><line x1="638.50" y1="1133.3" x2="662.50" y2="1133.3"/></g>
<g stroke="rgba(0,0,0,0.38)" stroke-width="6.4" fill="none"><rect x="580.80" y="1007.0" width="139.4" height="54.2"/><line x1="580.80" y1="1036.3" x2="720.20" y2="1036.3"/></g>
<g stroke="rgba(0,0,0,0.42)" stroke-width="3" fill="none"><rect x="580.80" y="1007.0" width="139.4" height="54.2"/><line x1="580.80" y1="1036.3" x2="720.20" y2="1036.3"/></g>
<circle cx="650.50" cy="1033.4" r="11" fill="#ff0000" stroke="rgba(80,0,0,0.9)" stroke-width="3.2"/>
<g stroke="rgba(0,0,0,0.52)" stroke-width="6" fill="none"><line x1="822.75" y1="655.0" x2="822.75" y2="865.7"/><line x1="810.75" y1="655.0" x2="834.75" y2="655.0"/><line x1="822.75" y1="1006.5" x2="822.75" y2="1197.1"/></g>
<g stroke="rgba(0,0,0,0.38)" stroke-width="6.4" fill="none"><rect x="753.05" y="865.7" width="139.4" height="140.8"/><line x1="753.05" y1="924.0" x2="892.45" y2="924.0"/></g>
<g stroke="rgba(0,0,0,0.42)" stroke-width="3" fill="none"><rect x="753.05" y="865.7" width="139.4" height="140.8"/><line x1="753.05" y1="924.0" x2="892.45" y2="924.0"/></g>
<circle cx="822.75" cy="930.0" r="11" fill="#ff0000" stroke="rgba(80,0,0,0.9)" stroke-width="3.2"/>
<g stroke="rgba(0,0,0,0.52)" stroke-width="6" fill="none"><line x1="995.00" y1="854.0" x2="995.00" y2="913.0"/><line x1="983.00" y1="854.0" x2="1007.00" y2="854.0"/><line x1="995.00" y1="952.0" x2="995.00" y2="1010.0"/><line x1="983.00" y1="1010.0" x2="1007.00" y2="1010.0"/></g>
<g stroke="rgba(0,0,0,0.38)" stroke-width="6.4" fill="none"><rect x="925.30" y="913.0" width="139.4" height="39.0"/><line x1="925.30" y1="928.0" x2="1064.70" y2="928.0"/></g>
<g stroke="rgba(0,0,0,0.42)" stroke-width="3" fill="none"><rect x="925.30" y="913.0" width="139.4" height="39.0"/><line x1="925.30" y1="928.0" x2="1064.70" y2="928.0"/></g>
<circle cx="995.00" cy="937.3" r="11" fill="#ff0000" stroke="rgba(80,0,0,0.9)" stroke-width="3.2"/>
<g stroke="rgba(0,0,0,0.52)" stroke-width="6" fill="none"><line x1="1167.25" y1="198.0" x2="1167.25" y2="387.0"/><line x1="1155.25" y1="198.0" x2="1179.25" y2="198.0"/><line x1="1167.25" y1="515.3" x2="1167.25" y2="705.4"/><line x1="1155.25" y1="705.4" x2="1179.25" y2="705.4"/></g>
<g stroke="rgba(0,0,0,0.38)" stroke-width="6.4" fill="none"><rect x="1097.55" y="387.0" width="139.4" height="128.3"/><line x1="1097.55" y1="447.4" x2="1236.95" y2="447.4"/></g>
<g stroke="rgba(0,0,0,0.42)" stroke-width="3" fill="none"><rect x="1097.55" y="387.0" width="139.4" height="128.3"/><line x1="1097.55" y1="447.4" x2="1236.95" y2="447.4"/></g>
<circle cx="1167.25" cy="471.0" r="11" fill="#ff0000" stroke="rgba(80,0,0,0.9)" stroke-width="3.2"/>
<g stroke="rgba(0,0,0,0.52)" stroke-width="6" fill="none"><line x1="1339.50" y1="493.7" x2="1339.50" y2="734.2"/><line x1="1327.50" y1="493.7" x2="1351.50" y2="493.7"/><line x1="1339.50" y1="896.6" x2="1339.50" y2="1132.0"/><line x1="1327.50" y1="1132.0" x2="1351.50" y2="1132.0"/></g>
<g stroke="rgba(0,0,0,0.38)" stroke-width="6.4" fill="none"><rect x="1269.80" y="734.2" width="139.4" height="162.4"/><line x1="1269.80" y1="803.8" x2="1409.20" y2="803.8"/></g>
<g stroke="rgba(0,0,0,0.42)" stroke-width="3" fill="none"><rect x="1269.80" y="734.2" width="139.4" height="162.4"/><line x1="1269.80" y1="803.8" x2="1409.20" y2="803.8"/></g>
<circle cx="1339.50" cy="818.0" r="11" fill="#ff0000" stroke="rgba(80,0,0,0.9)" stroke-width="3.2"/>
<g stroke="rgba(0,0,0,0.52)" stroke-width="6" fill="none"><line x1="1511.75" y1="488.7" x2="1511.75" y2="674.0"/><line x1="1499.75" y1="488.7" x2="1523.75" y2="488.7"/><line x1="1511.75" y1="797.5" x2="1511.75" y2="985.0"/><line x1="1499.75" y1="985.0" x2="1523.75" y2="985.0"/></g>
<g stroke="rgba(0,0,0,0.38)" stroke-width="6.4" fill="none"><rect x="1442.05" y="674.0" width="139.4" height="123.5"/><line x1="1442.05" y1="728.5" x2="1581.45" y2="728.5"/></g>
<g stroke="rgba(0,0,0,0.42)" stroke-width="3" fill="none"><rect x="1442.05" y="674.0" width="139.4" height="123.5"/><line x1="1442.05" y1="728.5" x2="1581.45" y2="728.5"/></g>
<circle cx="1511.75" cy="704.0" r="11" fill="#ff0000" stroke="rgba(80,0,0,0.9)" stroke-width="3.2"/>
<g stroke="rgba(0,0,0,0.52)" stroke-width="6" fill="none"><line x1="1684.00" y1="403.7" x2="1684.00" y2="656.0"/><line x1="1672.00" y1="403.7" x2="1696.00" y2="403.7"/><line x1="1684.00" y1="955.7" x2="1684.00" y2="1197.1"/></g>
<g stroke="rgba(0,0,0,0.38)" stroke-width="6.4" fill="none"><rect x="1614.30" y="656.0" width="139.4" height="299.7"/><line x1="1614.30" y1="733.5" x2="1753.70" y2="733.5"/></g>
<g stroke="rgba(0,0,0,0.42)" stroke-width="3" fill="none"><rect x="1614.30" y="656.0" width="139.4" height="299.7"/><line x1="1614.30" y1="733.5" x2="1753.70" y2="733.5"/></g>
<circle cx="1684.00" cy="782.4" r="11" fill="#ff0000" stroke="rgba(80,0,0,0.9)" stroke-width="3.2"/>
<rect x="206" y="29.9" width="1568.0" height="4" fill="#bdbdbd"/>
<rect x="214.0" y="36" width="4" height="1161.1" fill="#c2c2c2"/>
<rect x="1764.8" y="36" width="4" height="1161.1" fill="#bcbcbc"/>
<rect x="195.5" y="1199.3" width="1578.5" height="3" fill="#d0d0d0"/>
<g stroke="#4a4a4a" stroke-width="5.2" fill="none"><line x1="207.0" y1="1107.8" x2="220.3" y2="1107.8"/><line x1="1757.5" y1="1107.8" x2="1771.0" y2="1107.8"/><line x1="195.0" y1="1018.5" x2="220.3" y2="1018.5"/><line x1="1745.5" y1="1018.5" x2="1771.0" y2="1018.5"/><line x1="207.0" y1="929.2" x2="220.3" y2="929.2"/><line x1="1757.5" y1="929.2" x2="1771.0" y2="929.2"/><line x1="195.0" y1="839.9" x2="220.3" y2="839.9"/><line x1="1745.5" y1="839.9" x2="1771.0" y2="839.9"/><line x1="207.0" y1="750.6" x2="220.3" y2="750.6"/><line x1="1757.5" y1="750.6" x2="1771.0" y2="750.6"/><line x1="195.0" y1="661.3" x2="220.3" y2="661.3"/><line x1="1745.5" y1="661.3" x2="1771.0" y2="661.3"/><line x1="207.0" y1="572.0" x2="220.3" y2="572.0"/><line x1="1757.5" y1="572.0" x2="1771.0" y2="572.0"/><line x1="195.0" y1="482.7" x2="220.3" y2="482.7"/><line x1="1745.5" y1="482.7" x2="1771.0" y2="482.7"/><line x1="207.0" y1="393.4" x2="220.3" y2="393.4"/><line x1="1757.5" y1="393.4" x2="1771.0" y2="393.4"/><line x1="195.0" y1="304.1" x2="220.3" y2="304.1"/><line x1="1745.5" y1="304.1" x2="1771.0" y2="304.1"/><line x1="207.0" y1="214.8" x2="220.3" y2="214.8"/><line x1="1757.5" y1="214.8" x2="1771.0" y2="214.8"/><line x1="195.0" y1="125.5" x2="220.3" y2="125.5"/><line x1="1745.5" y1="125.5" x2="1771.0" y2="125.5"/><line x1="306.00" y1="1197.1" x2="306.00" y2="1222.6"/><line x1="306.00" y1="35.9" x2="306.00" y2="59.4"/><line x1="478.25" y1="1197.1" x2="478.25" y2="1222.6"/><line x1="478.25" y1="35.9" x2="478.25" y2="59.4"/><line x1="650.50" y1="1197.1" x2="650.50" y2="1222.6"/><line x1="650.50" y1="35.9" x2="650.50" y2="59.4"/><line x1="822.75" y1="1197.1" x2="822.75" y2="1222.6"/><line x1="822.75" y1="35.9" x2="822.75" y2="59.4"/><line x1="995.00" y1="1197.1" x2="995.00" y2="1222.6"/><line x1="995.00" y1="35.9" x2="995.00" y2="59.4"/><line x1="1167.25" y1="1197.1" x2="1167.25" y2="1222.6"/><line x1="1167.25" y1="35.9" x2="1167.25" y2="59.4"/><line x1="1339.50" y1="1197.1" x2="1339.50" y2="1222.6"/><line x1="1339.50" y1="35.9" x2="1339.50" y2="59.4"/><line x1="1511.75" y1="1197.1" x2="1511.75" y2="1222.6"/><line x1="1511.75" y1="35.9" x2="1511.75" y2="59.4"/><line x1="1684.00" y1="1197.1" x2="1684.00" y2="1222.6"/><line x1="1684.00" y1="35.9" x2="1684.00" y2="59.4"/></g>
<g stroke="#505050" stroke-width="6" fill="none"><line x1="220.3" y1="35.9" x2="220.3" y2="1197.1"/><line x1="1771.0" y1="35.9" x2="1771.0" y2="1200.1"/><line x1="206.0" y1="35.9" x2="1774.0" y2="35.9"/><line x1="195.5" y1="1197.1" x2="1774.0" y2="1197.1"/></g>
<g font-family="'Liberation Sans', sans-serif" font-size="52" fill="#262626"><text x="183.0" y="1209.7" text-anchor="end">0</text><text x="183.0" y="1031.1" text-anchor="end">2</text><text x="183.0" y="852.5" text-anchor="end">4</text><text x="183.0" y="673.9" text-anchor="end">6</text><text x="183.0" y="495.3" text-anchor="end">8</text><text x="183.0" y="316.7" text-anchor="end">10</text><text x="183.0" y="138.1" text-anchor="end">12</text><text x="306.00" y="1273.5" text-anchor="middle">B1</text><text x="478.25" y="1273.5" text-anchor="middle">B2</text><text x="650.50" y="1273.5" text-anchor="middle">B3</text><text x="822.75" y="1273.5" text-anchor="middle">E1</text><text x="995.00" y="1273.5" text-anchor="middle">E2</text><text x="1167.25" y="1273.5" text-anchor="middle">E3</text><text x="1339.50" y="1273.5" text-anchor="middle">L1</text><text x="1511.75" y="1273.5" text-anchor="middle">L2</text><text x="1684.00" y="1273.5" text-anchor="middle">L3</text></g>
<text transform="translate(87.4 913.6) rotate(-90) scale(0.985 1)" x="-5.9 38.6 89.6 130.2 177.1 193.2 212.0 253.1 287.2 321.3 352.2 369.1 389.1 422.3 474.3 508.6" y="0" font-family="'Liberation Sans', sans-serif" font-size="65" fill="#1a1a1a">RMSD (Angstroms)</text>
</g>
</svg>
</body></html>
